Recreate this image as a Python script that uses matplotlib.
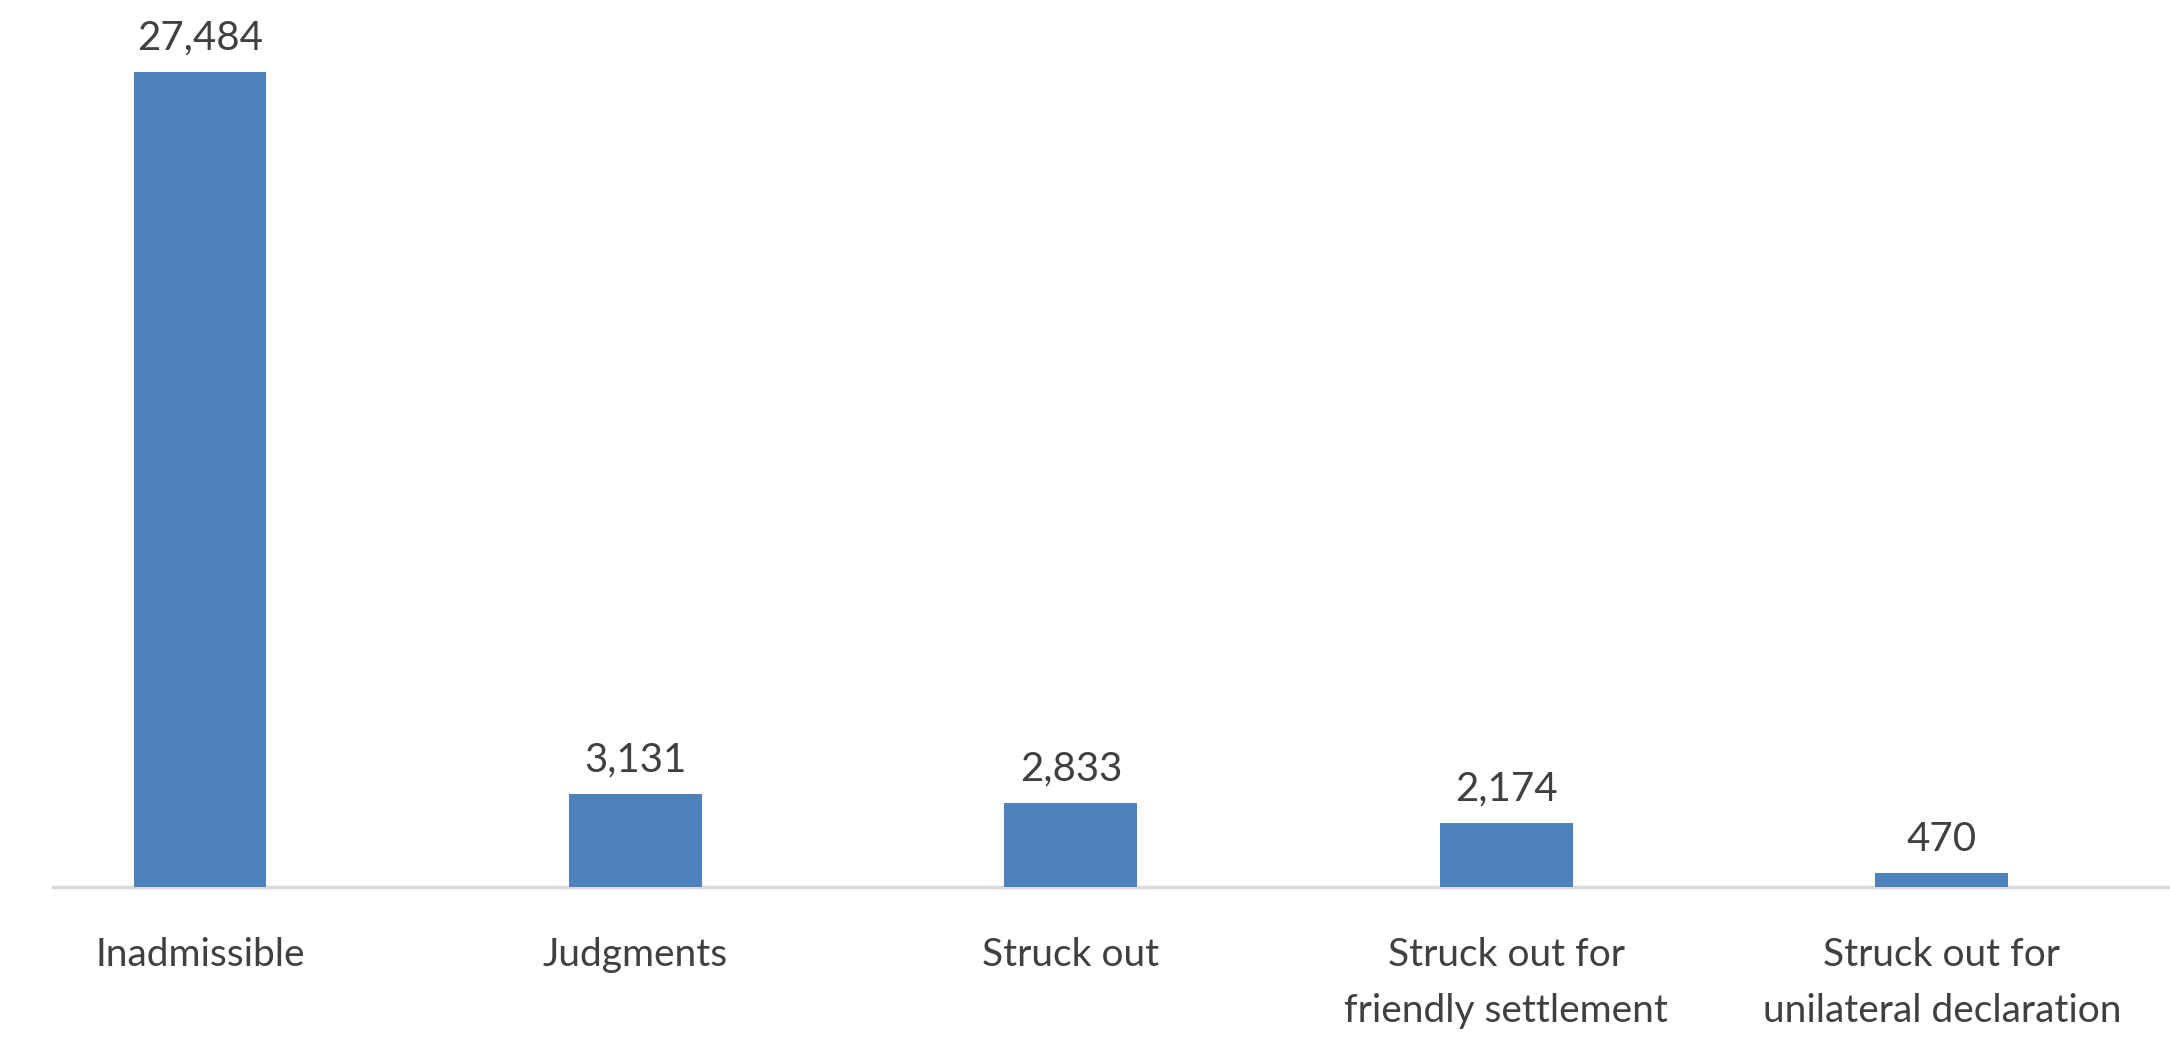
import matplotlib.pyplot as plt

categories = ["Inadmissible", "Judgments", "Struck out",
              "Struck out for\nfriendly settlement", "Struck out for\nunilateral declaration"]
values = [27484, 3131, 2833, 2174, 470]
value_labels = ["27,484", "3,131", "2,833", "2,174", "470"]

plt.rcParams['font.family'] = ['Lato', 'DejaVu Sans']

fig = plt.figure(figsize=(21.7, 10.44), dpi=100)
ax = fig.add_axes([53 / 2170, 157 / 1044, 1 - 53 / 2170, 887 / 1044])

x = list(range(len(categories)))
bars = ax.bar(x, values, width=0.305, color="#4f81bd", zorder=3)

ax.set_xlim(-0.3375, 4.524)
ax.set_ylim(0, 27484 * 887 / 815)

# only the bottom axis line
for s in ["top", "right", "left"]:
    ax.spines[s].set_visible(False)
ax.spines["bottom"].set_color("#d9d9d9")
ax.spines["bottom"].set_linewidth(2.5)
ax.set_yticks([])
ax.set_xticks(x)
ax.set_xticklabels(categories, fontsize=28, color="#404040", linespacing=1.7)
ax.tick_params(axis="x", length=0, pad=36)
for lbl in ax.get_xticklabels():
    lbl.set_verticalalignment("top")

# value labels above bars
for b, lab in zip(bars, value_labels):
    ax.annotate(lab, xy=(b.get_x() + b.get_width() / 2, b.get_height()),
                xytext=(0, 11), textcoords="offset points",
                ha="center", va="bottom", fontsize=29, color="#404040")

fig.savefig("out.png", dpi=100)
